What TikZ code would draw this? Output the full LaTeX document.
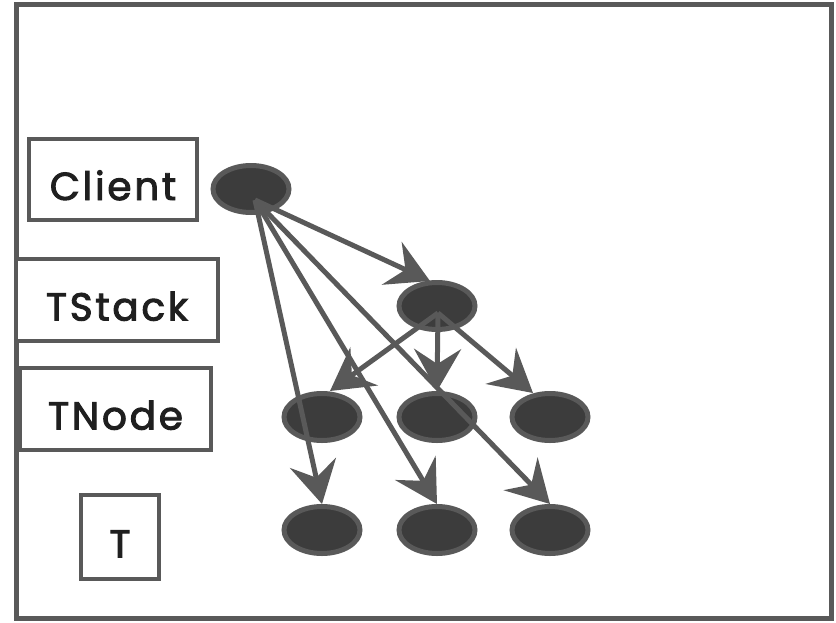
\documentclass[tikz,border=0pt]{standalone}
\usepackage{fontspec}
\setmainfont{Poppins}
\newfontfamily\lblfont{Poppins}[FakeBold=2.5,LetterSpace=7]
\usetikzlibrary{arrows.meta,shapes.geometric}
\definecolor{edge}{HTML}{595959}
\definecolor{dot}{HTML}{3C3C3C}
\begin{document}
\begin{tikzpicture}[x=1pt,y=-1pt,
  lbl/.style={draw=edge,line width=4.5pt,fill=white,
    font=\lblfont\fontsize{39}{42}\selectfont,text=black!88,
    text height=41pt,text depth=0pt,inner sep=0pt},
  dotnode/.style={ellipse,draw=edge,fill=dot,line width=5pt,
    minimum width=76pt,minimum height=47pt,inner sep=0pt},
  link/.style={draw=edge,line width=5pt,
    -{Stealth[length=42pt,width=47pt,inset=15pt]}}]
\useasboundingbox (0,0) rectangle (836,622);
\draw[edge,line width=5pt] (16,4) rectangle (831,618);

% legend boxes
\node[lbl,minimum width=168pt,minimum height=81pt] (lclient) at (113,179.5) {Client};
\node[lbl,minimum width=202pt,minimum height=82pt] (lstack) at (117,300) {TStack};
\node[lbl,minimum width=191pt,minimum height=82pt] (lnode) at (115.5,409) {TNode};
\node[lbl,minimum width=78pt,minimum height=84pt] (lt) at (120,537) {T};

% objects
\node[dotnode] (c) at (251,189) {};
\node[dotnode] (s) at (437,306) {};
\node[dotnode] (n1) at (322,417) {};
\node[dotnode] (n2) at (437,417) {};
\node[dotnode] (n3) at (550,417) {};
\node[dotnode] (t1) at (322,530) {};
\node[dotnode] (t2) at (437,530) {};
\node[dotnode] (t3) at (550,530) {};

% references held by the client
\draw[link] ([shift={(4pt,-11pt)}]c.center) -- ([shift={(-7pt,-1pt)}]s.north);
\draw[link] ([shift={(4pt,-11pt)}]c.center) -- (t1.north);
\draw[link] ([shift={(4pt,-11pt)}]c.center) -- (t2.north);
\draw[link] ([shift={(4pt,-11pt)}]c.center) -- (t3.north);

% references held by the stack
\draw[link] ([shift={(1pt,-7pt)}]s.center) -- ([xshift=8pt]n1.north);
\draw[link] ([shift={(1pt,-7pt)}]s.center) -- (n2.north);
\draw[link] ([shift={(1pt,-7pt)}]s.center) -- ([shift={(-17pt,-2pt)}]n3.north);
\end{tikzpicture}
\end{document}
